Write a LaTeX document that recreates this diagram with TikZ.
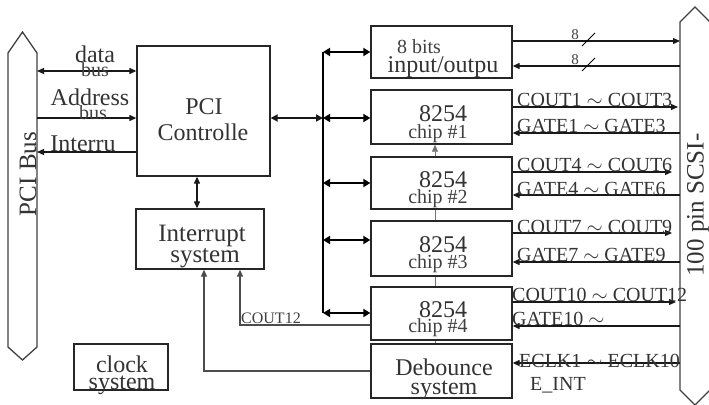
\documentclass[tikz,border=0pt]{standalone}
\usepackage{fontspec}
\setmainfont{Liberation Serif}
\usetikzlibrary{arrows.meta}
\begin{document}
\begin{tikzpicture}[x=1pt,y=-1pt,
  boxnode/.style={draw=black!85, line width=1.3pt, inner sep=0pt},
  big/.style={font=\fontsize{24}{24}\selectfont, text=black!80, inner sep=0pt, anchor=base},
  mid/.style={font=\fontsize{20}{20}\selectfont, text=black!75, inner sep=0pt, anchor=base},
  sig/.style={font=\fontsize{20}{20}\selectfont, text=black!80, inner sep=0pt, anchor=base west},
  small/.style={font=\fontsize{16}{16}\selectfont, text=black!75, inner sep=0pt, anchor=base west},
  tiny/.style={font=\fontsize{15}{15}\selectfont, text=black!75, inner sep=0pt, anchor=base},
  conn/.style={line width=1.2pt, draw=black!90},
  gconn/.style={line width=1.3pt, draw=black!70},
  busline/.style={line width=1.3pt, draw=black!75},
  branch/.style={line width=2.4pt, draw=black, {Triangle[length=7pt,width=8pt]}-{Triangle[length=7pt,width=8pt]}},
  >={Triangle[length=7pt,width=6pt]}
]
\useasboundingbox (0,0) rectangle (709,404);

% ---------- left PCI bus ----------
\draw[busline] (8,53) -- (22.5,32) -- (37,53) -- (37,347) -- (22.5,360) -- (8,347) -- cycle;
\node[rotate=90, font=\fontsize{25}{25}\selectfont, text=black!80, inner sep=0pt] (pcibus) at (28,174) {PCI Bus};

% ---------- right SCSI bus ----------
\draw[busline] (680,22) -- (695,7) -- (710,22) -- (710,390) -- (695,405) -- (680,390) -- cycle;
\node[rotate=90, font=\fontsize{25}{25}\selectfont, text=black!80, inner sep=0pt] (scsi) at (698,205) {100 pin SCSI-};

% ---------- boxes ----------
\node[boxnode, minimum width=133pt, minimum height=130pt] (ctrl) at (203.5,111) {};
\node[boxnode, minimum width=128pt, minimum height=60pt] (intr) at (200,239) {};
\node[boxnode, minimum width=94pt, minimum height=46pt] (clock) at (121,367) {};
\node[boxnode, minimum width=141pt, minimum height=52pt] (io) at (441.5,52) {};
\node[boxnode, minimum width=141pt, minimum height=54pt] (c1) at (441.5,117) {};
\node[boxnode, minimum width=141pt, minimum height=52pt] (c2) at (441.5,183) {};
\node[boxnode, minimum width=141pt, minimum height=55pt] (c3) at (441.5,248.5) {};
\node[boxnode, minimum width=141pt, minimum height=53pt] (c4) at (441.5,313.5) {};
\node[boxnode, minimum width=141pt, minimum height=54pt] (deb) at (441.5,371) {};

% ---------- box texts ----------
\node[big] (tctrl1) at (204,114) {PCI};
\node[big] (tctrl2) at (203,140) {Controlle};
\node[big, font=\fontsize{25}{25}\selectfont] (tintr1) at (202,241) {Interrupt};
\node[big, font=\fontsize{25}{25}\selectfont] (tintr2) at (205,262) {system};
\node[big] (tclk1) at (122,372) {clock};
\node[big] (tclk2) at (122,389) {system};
\node[mid] (tio1) at (419,54) {8 bits};
\node[big] (tio2) at (443,73) {input/outpu};
\node[big] (t11) at (443,121) {8254};
\node[mid] (t12) at (438,138) {chip \#1};
\node[big] (t21) at (443,187) {8254};
\node[mid] (t22) at (438,203) {chip \#2};
\node[big] (t31) at (443,252) {8254};
\node[mid] (t32) at (438,268) {chip \#3};
\node[big] (t41) at (443,317) {8254};
\node[mid] (t42) at (438,332) {chip \#4};
\node[big] (tdeb1) at (444,375) {Debounce};
\node[big] (tdeb2) at (444,394) {system};

% ---------- left side connections ----------
\coordinate (pd) at (37,71);
\coordinate (pa) at (37,118);
\coordinate (pi) at (37,152);
\draw[conn, <->] (pd) -- (ctrl.west |- pd);
\draw[conn, ->] (pa) -- (ctrl.west |- pa);
\draw[conn, ->] (ctrl.west |- pi) -- (pi);
\node[big] (ldata) at (95,63) {data};
\node[mid] (lbus1) at (95,76) {bus};
\node[big] (laddr) at (90,105) {Address};
\node[mid] (lbus2) at (93,119) {bus};
\node[big] (lint) at (83,151) {Interru};

% controller <-> interrupt
\draw[conn, <->] (ctrl.south -| 197,0) -- (intr.north -| 197,0);

% ---------- internal bus ----------
\coordinate (b0) at (323,52);
\coordinate (bc) at (323,118);
\coordinate (b2) at (323,183);
\coordinate (b3) at (323,240);
\coordinate (b4) at (323,313);
\draw[line width=2.4pt] (b0) -- (b4);
\draw[conn, line width=1.8pt, {Triangle[length=7pt,width=7pt]}-{Triangle[length=7pt,width=7pt]}] (ctrl.east |- bc) -- (bc);
\draw[branch] (b0) -- (io.west |- b0);
\draw[branch] (bc) -- (c1.west |- bc);
\draw[branch] (b2) -- (c2.west |- b2);
\draw[branch] (b3) -- (c3.west |- b3);
\draw[branch] (b4) -- (c4.west |- b4);

% chip chain
\draw[line width=0.6pt, draw=black!55, ->] (c2.north -| 435,0) -- (c1.south -| 435,0);
\draw[line width=0.6pt, draw=black!55] (c2.south -| 435,0) -- (c3.north -| 435,0);
\draw[line width=0.6pt, draw=black!55] (c3.south -| 435,0) -- (c4.north -| 435,0);
\draw[line width=0.6pt, draw=black!55] (c4.south -| 435,0) -- (deb.north -| 435,0);

% ---------- to interrupt system ----------
\coordinate (k1) at (240,325);
\coordinate (k2) at (204,371);
\draw[gconn, ->] (c4.west |- k1) -- (k1) -- (intr.south -| k1);
\draw[gconn, ->] (deb.west |- k2) -- (k2) -- (intr.south -| k2);
\node[small] (lcout12) at (241,323) {COUT12};

% ---------- right side signals ----------
\coordinate (r1) at (680,41);
\coordinate (r2) at (680,66);
\coordinate (r3) at (678,107);
\coordinate (r4) at (680,133);
\coordinate (r5) at (672,172);
\coordinate (r6) at (680,195);
\coordinate (r7) at (672,233);
\coordinate (r8) at (680,262);
\coordinate (r9) at (676,302);
\coordinate (r10) at (680,326);
\coordinate (r11) at (680,363);
\draw[conn, ->] (io.east |- r1) -- (r1);
\draw[conn, <-] (io.east |- r2) -- (r2);
\draw[conn, ->] (c1.east |- r3) -- (r3);
\draw[conn, <-] (c1.east |- r4) -- (r4);
\draw[conn, ->] (c2.east |- r5) -- (r5);
\draw[conn, <-] (c2.east |- r6) -- (r6);
\draw[conn, ->] (c3.east |- r7) -- (r7);
\draw[conn, <-] (c3.east |- r8) -- (r8);
\draw[conn, ->] (c4.east |- r9) -- (r9);
\draw[conn, <-] (c4.east |- r10) -- (r10);
\draw[conn, <-] (deb.east |- r11) -- (r11);

% bus width marks
\coordinate (s1a) at (582,46);
\coordinate (s1b) at (595,33);
\coordinate (s2a) at (582,71);
\coordinate (s2b) at (595,58);
\draw[line width=1pt] (s1a) -- (s1b);
\draw[line width=1pt] (s2a) -- (s2b);
\node[tiny] (w1) at (575,40) {8};
\node[tiny] (w2) at (575,65) {8};

% signal labels
\node[sig] (lc1) at (517,106) {COUT1 $\sim$ COUT3};
\node[sig] (lg1) at (517,132) {GATE1 $\sim$ GATE3};
\node[sig] (lc2) at (517,171) {COUT4 $\sim$ COUT6};
\node[sig] (lg2) at (517,195) {GATE4 $\sim$ GATE6};
\node[sig] (lc3) at (517,233) {COUT7 $\sim$ COUT9};
\node[sig] (lg3) at (517,261) {GATE7 $\sim$ GATE9};
\node[sig] (lc4) at (512,301) {COUT10 $\sim$ COUT12};
\node[sig] (lg4) at (512,325) {GATE10 $\sim$};
\node[sig] (le1) at (519,367) {ECLK1 $\sim$ ECLK10};
\node[sig] (le2) at (530,390) {E\_INT};
\end{tikzpicture}
\end{document}
